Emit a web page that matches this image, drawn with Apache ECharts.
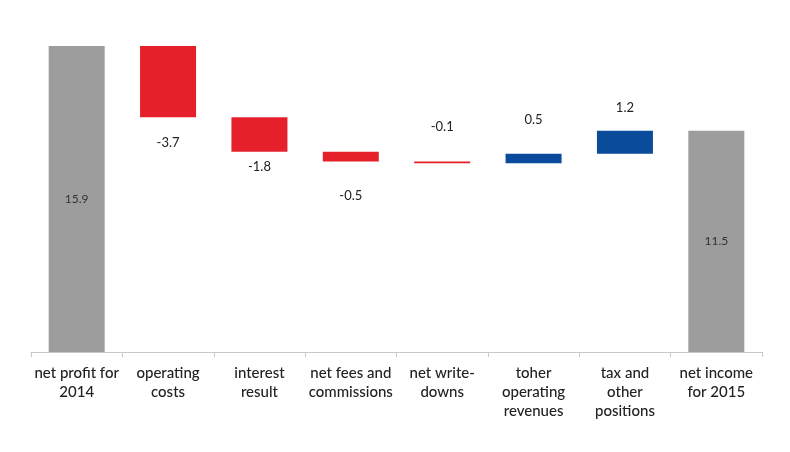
<!DOCTYPE html>
<html>
<head>
<meta charset="utf-8">
<script src="https://cdn.jsdelivr.net/npm/echarts@6/dist/echarts.min.js"></script>
<style>
html,body{margin:0;padding:0;background:#fff;}
#c{width:790px;height:452px;}
</style>
</head>
<body>
<div id="c"></div>
<script>
var categories = ['net profit for\n2014', 'operating\ncosts', 'interest\nresult', 'net fees and\ncommissions', 'net write-\ndowns', 'toher\noperating\nrevenues', 'tax and\nother\npositions', 'net income\nfor 2015'];
var changes = [15.9, -3.7, -1.8, -0.5, -0.1, 0.5, 1.2, 11.5];
var kinds = ['total', 'delta', 'delta', 'delta', 'delta', 'delta', 'delta', 'total'];

// label styling (not data)
var labelPlace = ['inside', 'bottom', 'bottom', 'bottom', 'top', 'top', 'top', 'inside'];
var labelGap = [0, 19, 9, 28, 28, 27, 16, 0];

var COLORS = { total: '#9d9d9d', neg: '#e5202a', pos: '#0b4b9c' };

var baseData = [], barData = [];
var running = 0;
for (var i = 0; i < changes.length; i++) {
  var v = changes[i];
  var color, base, h;
  if (kinds[i] === 'total') {
    base = 0; h = v; running = v; color = COLORS.total;
  } else if (v < 0) {
    base = running + v; h = -v; running = running + v; color = COLORS.neg;
  } else {
    base = running; h = v; running = running + v; color = COLORS.pos;
  }
  baseData.push(base);
  barData.push({
    value: h,
    raw: v,
    itemStyle: { color: color },
    label: {
      show: true,
      position: labelPlace[i],
      distance: labelGap[i],
      fontSize: kinds[i] === 'total' ? 12 : 13,
      color: kinds[i] === 'total' ? '#333' : '#222'
    }
  });
}

var chart = echarts.init(document.getElementById('c'));
chart.setOption({
  animation: false,
  backgroundColor: '#fff',
  grid: { left: 31, right: 28, top: 44, bottom: 100 },
  xAxis: {
    type: 'category',
    data: categories,
    axisLine: { lineStyle: { color: '#c8c8c8', width: 1 } },
    axisTick: { show: true, length: 5, lineStyle: { color: '#c8c8c8' } },
    axisLabel: {
      interval: 0,
      fontFamily: 'Lato',
      fontSize: 15,
      fontWeight: 500,
      color: '#222',
      lineHeight: 19,
      margin: 12
    }
  },
  yAxis: {
    type: 'value',
    min: 0,
    max: 16,
    show: false,
    splitLine: { show: false }
  },
  series: [
    {
      type: 'bar',
      stack: 'w',
      data: baseData,
      barWidth: 56,
      itemStyle: { color: 'transparent' },
      silent: true
    },
    {
      type: 'bar',
      stack: 'w',
      data: barData,
      barWidth: 56,
      label: {
        show: true,
        fontFamily: 'Lato',
        formatter: function (p) { return p.data.raw.toFixed(1); }
      }
    }
  ]
});
</script>
</body>
</html>
